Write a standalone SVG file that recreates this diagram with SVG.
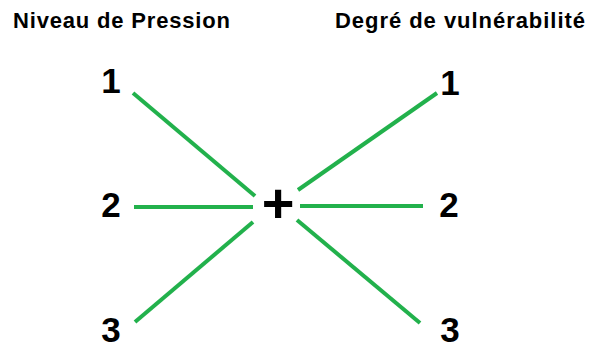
<svg xmlns="http://www.w3.org/2000/svg" width="591" height="346" viewBox="0 0 591 346">
<style>
.t{font-family:"Liberation Sans",Arial,sans-serif;font-weight:bold;fill:#000}
.h{font-size:22px}
.n{font-size:35px;text-anchor:middle}
.c line{stroke:#22b14c;stroke-width:4;stroke-linecap:butt}
</style>
<rect width="591" height="346" fill="#fff"/>
<g id="title-left"><text class="t h" x="13" y="28" textLength="217" lengthAdjust="spacing">Niveau de Pression</text></g>
<g id="title-right"><text class="t h" x="335" y="28" textLength="250" lengthAdjust="spacing">Degré de vulnérabilité</text></g>
<g id="center"><text class="t" x="278" y="222" font-size="56" text-anchor="middle">+</text></g>
<g id="left-1"><text class="t n" x="111" y="93">1</text></g>
<g id="left-2"><text class="t n" x="111" y="217">2</text></g>
<g id="left-3"><text class="t n" x="111" y="342">3</text></g>
<g id="right-1"><text class="t n" x="450" y="95">1</text></g>
<g id="right-2"><text class="t n" x="449" y="217">2</text></g>
<g id="right-3"><text class="t n" x="450" y="342">3</text></g>
<g class="c" id="connectors">
<line x1="133" y1="93" x2="255" y2="196"/>
<line x1="134" y1="207" x2="253" y2="207"/>
<line x1="135" y1="322" x2="253" y2="222"/>
<line x1="437" y1="93" x2="298" y2="190"/>
<line x1="300" y1="206" x2="423" y2="206"/>
<line x1="297" y1="220" x2="420" y2="323"/>
</g>
</svg>
